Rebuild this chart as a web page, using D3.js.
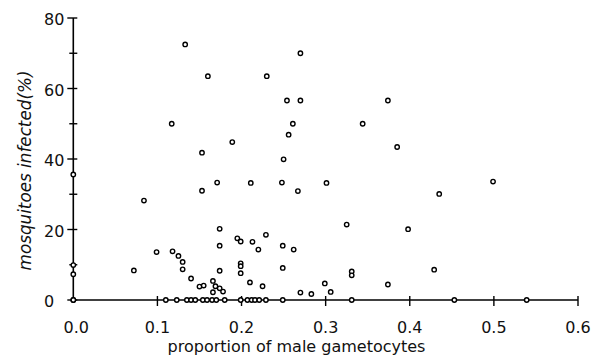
<!DOCTYPE html>
<html>
<head>
<meta charset="utf-8">
<script src="https://cdn.jsdelivr.net/npm/d3@7"></script>
<style>
  html, body { margin: 0; padding: 0; background: #fff; }
  svg { display: block; }
</style>
</head>
<body>
<svg id="chart" width="598" height="356"></svg>
<script>
// ---- data ----
const propMale = [
  0, 0, 0, 0, 0,
  0.133, 0.160, 0.230, 0.270, 0.117, 0.153, 0.189, 0.254, 0.270, 0.261,
  0.256, 0.250, 0.374, 0.344, 0.385, 0.499, 0.171, 0.211, 0.248, 0.301,
  0.153, 0.267, 0.084, 0.435, 0.325, 0.398, 0.174,
  0.099, 0.118, 0.125, 0.130, 0.130, 0.072, 0.140, 0.150, 0.155, 0.166,
  0.169, 0.166, 0.174, 0.178, 0.174, 0.174, 0.195, 0.199, 0.213, 0.220,
  0.199, 0.199, 0.199, 0.210, 0.225, 0.229, 0.249, 0.262, 0.249, 0.270,
  0.283, 0.299, 0.306, 0.331, 0.331, 0.374, 0.429,
  0.110, 0.123, 0.135, 0.140, 0.145, 0.154, 0.159, 0.165, 0.170, 0.180,
  0.199, 0.207, 0.212, 0.216, 0.221, 0.229, 0.249, 0.331, 0.453, 0.539
];
const infected = [
  0, 0, 7.3, 9.9, 35.6,
  72.5, 63.5, 63.5, 70.0, 50.0, 41.8, 44.8, 56.6, 56.6, 50.0,
  46.9, 39.9, 56.6, 50.0, 43.4, 33.6, 33.3, 33.2, 33.3, 33.2,
  31.0, 30.9, 28.2, 30.1, 21.4, 20.1, 20.2,
  13.6, 13.8, 12.5, 10.8, 8.7, 8.4, 6.1, 3.8, 4.1, 5.4,
  3.9, 2.2, 3.3, 2.4, 15.4, 8.3, 17.5, 16.6, 16.5, 14.3,
  10.4, 9.6, 7.6, 5.0, 3.9, 18.5, 15.4, 14.3, 9.1, 2.1,
  1.7, 4.7, 2.3, 8.1, 7.0, 4.4, 8.6,
  0, 0, 0, 0, 0, 0, 0, 0, 0, 0,
  0, 0, 0, 0, 0, 0, 0, 0, 0, 0
];
const xTicks = [0, 0.1, 0.2, 0.3, 0.4, 0.5, 0.6];
const xTickLabels = ["0.0", "0.1", "0.2", "0.3", "0.4", "0.5", "0.6"];
const yTicks = [0, 20, 40, 60, 80];
const yTickLabels = ["0", "20", "40", "60", "80"];
const yMinorTicks = [10, 30, 50, 70];
const xTitle = "proportion of male gametocytes";
const yTitle = "mosquitoes infected(%)";

// ---- drawing ----
const svg = d3.select("#chart");
const font = "'DejaVu Sans', Verdana, sans-serif";

const x = d3.scaleLinear().domain([0, 0.6]).range([73.3, 578]);
const y = d3.scaleLinear().domain([0, 80]).range([300, 18]);

const g = svg.append("g");

// axis lines
g.append("line")
  .attr("x1", x(0)).attr("x2", x(0.6))
  .attr("y1", y(0)).attr("y2", y(0))
  .attr("stroke", "#000").attr("stroke-width", 1.5);
g.append("line")
  .attr("x1", x(0)).attr("x2", x(0))
  .attr("y1", y(0)).attr("y2", y(80))
  .attr("stroke", "#000").attr("stroke-width", 1.6);

// x ticks
g.selectAll(".xt").data(xTicks.slice(1)).enter().append("line")
  .attr("x1", d => x(d)).attr("x2", d => x(d))
  .attr("y1", y(0) - 4).attr("y2", y(0) + 6)
  .attr("stroke", "#000").attr("stroke-width", 1.4);

g.selectAll(".xl").data(xTicks).enter().append("text")
  .attr("x", d => x(d) + (d === 0 ? 3 : 0))
  .attr("y", y(0) + 33)
  .attr("text-anchor", "middle")
  .attr("font-family", font).attr("font-size", 16)
  .attr("fill", "#111")
  .text((d, i) => xTickLabels[i]);

// y ticks
g.selectAll(".yt").data(yTicks).enter().append("line")
  .attr("x1", x(0) - 6).attr("x2", x(0) + 4)
  .attr("y1", d => y(d)).attr("y2", d => y(d))
  .attr("stroke", "#000").attr("stroke-width", 1.4);
g.selectAll(".ym").data(yMinorTicks).enter().append("line")
  .attr("x1", x(0) - 4).attr("x2", x(0) + 4)
  .attr("y1", d => y(d)).attr("y2", d => y(d))
  .attr("stroke", "#000").attr("stroke-width", 1.4);

g.selectAll(".yl").data(yTicks).enter().append("text")
  .attr("x", 44)
  .attr("y", d => y(d) + 7.3)
  .attr("text-anchor", "start")
  .attr("font-family", font).attr("font-size", 16)
  .attr("fill", "#111")
  .text((d, i) => yTickLabels[i]);

// axis titles
g.append("text")
  .attr("x", 296.5).attr("y", 352)
  .attr("text-anchor", "middle")
  .attr("font-family", font).attr("font-size", 16)
  .attr("fill", "#111")
  .text(xTitle);

g.append("text")
  .attr("transform", "translate(31,170.5) rotate(-90)")
  .attr("text-anchor", "middle")
  .attr("font-family", font).attr("font-size", 16.8)
  .attr("font-style", "italic")
  .attr("fill", "#111")
  .text(yTitle);

// points
const pts = propMale.map((v, i) => ({ p: v, inf: infected[i] }));
g.selectAll(".pt").data(pts).enter().append("circle")
  .attr("cx", d => x(d.p))
  .attr("cy", d => y(d.inf))
  .attr("r", 2.2)
  .attr("fill", "#fff")
  .attr("stroke", "#000")
  .attr("stroke-width", 1.4);
</script>
</body>
</html>
